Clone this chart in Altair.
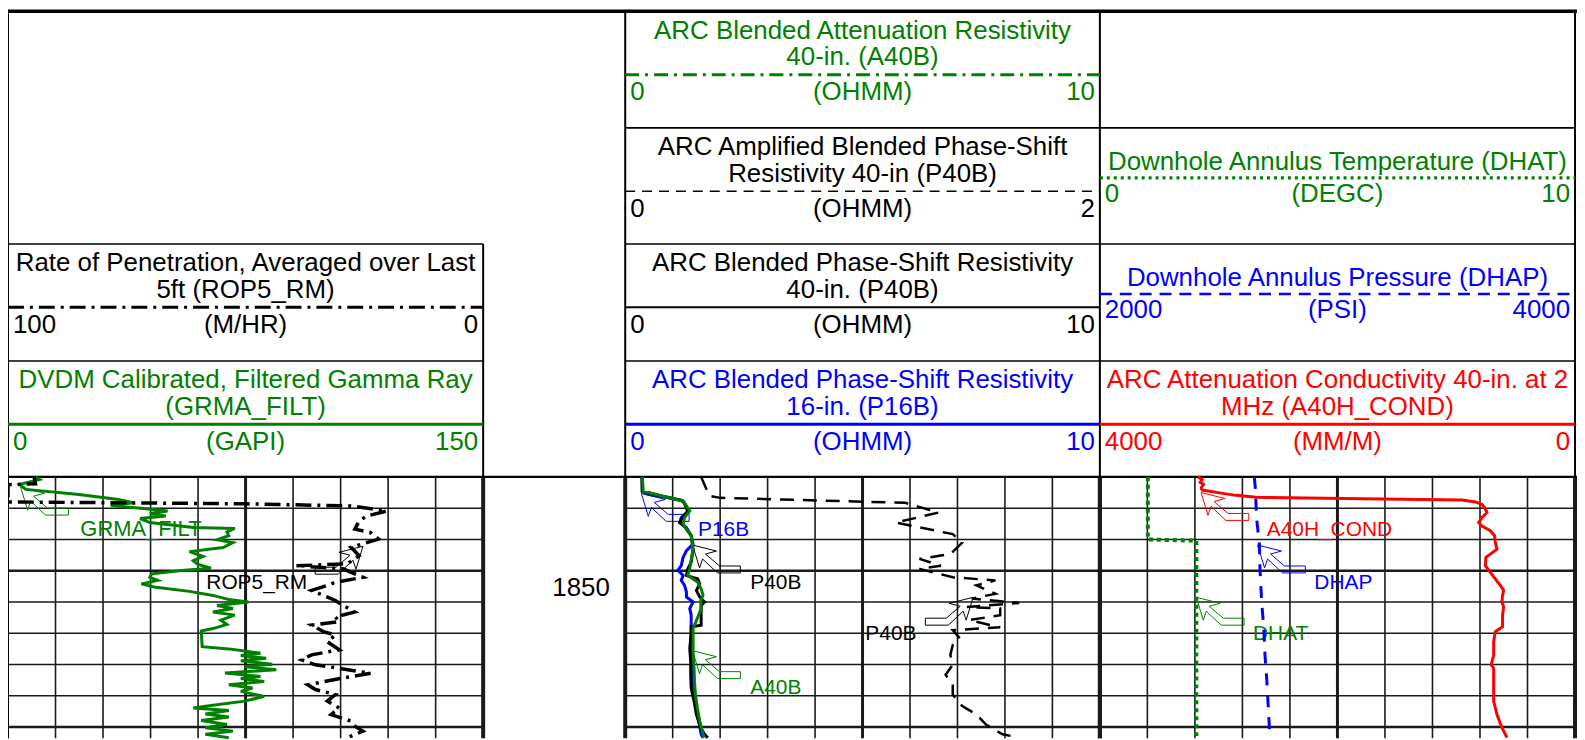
import altair as alt
import pandas as pd

GREEN, BLUE, RED, BLACK = "#008000", "#0000ff", "#ff0000", "#000000"
FONT = "Liberation Sans"

# ---------------- curve data: (depth, value) ----------------
GR = [(1847.00, 8.7), (1847.08, 10.0), (1847.24, 3.7), (1847.40, 5.6), (1847.56, 22.4), (1847.72, 34.9),
      (1847.83, 39.8), (1847.91, 32.4), (1848.02, 43.6), (1848.09, 50.4), (1848.17, 44.8), (1848.25, 49.8),
      (1848.33, 41.7), (1848.46, 44.8), (1848.62, 58.5), (1848.65, 71.6), (1848.76, 69.1), (1848.88, 69.7),
      (1849.01, 66.0), (1849.10, 71.0), (1849.26, 67.9), (1849.39, 57.3), (1849.54, 61.6), (1849.68, 58.5),
      (1849.79, 59.8), (1849.92, 64.1), (1849.99, 54.8), (1850.10, 45.4), (1850.21, 44.8), (1850.31, 47.3),
      (1850.42, 42.1), (1850.52, 46.1), (1850.66, 57.3), (1850.79, 64.7), (1850.92, 69.7), (1851.00, 75.9),
      (1851.11, 66.0), (1851.21, 71.0), (1851.32, 64.7), (1851.42, 71.6), (1851.58, 67.2), (1851.72, 69.1),
      (1851.85, 64.7), (1851.93, 61.0), (1852.43, 61.3), (1852.50, 69.7), (1852.57, 74.7), (1852.64, 79.7),
      (1852.71, 73.5), (1852.80, 81.5), (1852.88, 73.5), (1852.99, 83.4), (1853.07, 74.7), (1853.17, 84.7),
      (1853.27, 68.5), (1853.38, 79.7), (1853.45, 73.5), (1853.54, 80.9), (1853.65, 69.7), (1853.75, 77.2),
      (1853.86, 73.5), (1854.02, 80.9), (1854.17, 74.7), (1854.30, 64.7), (1854.39, 58.5), (1854.47, 69.7),
      (1854.58, 62.3), (1854.68, 69.7), (1854.79, 61.0), (1854.92, 69.1), (1855.02, 62.3), (1855.13, 71.0),
      (1855.23, 62.3), (1855.34, 69.7)]

ROP = [(1847.00, 94.5), (1847.22, 94.2), (1847.25, 100.0), (1847.80, 100.0), (1847.83, 75.0), (1847.86, 50.0),
       (1847.93, 27.8), (1848.09, 20.3), (1848.25, 24.5), (1848.41, 26.1), (1848.67, 27.0), (1848.78, 23.7),
       (1848.99, 22.0), (1849.25, 27.8), (1849.52, 26.1), (1849.78, 28.6), (1849.84, 39.4), (1849.89, 34.4),
       (1849.94, 29.5), (1850.21, 25.3), (1850.37, 31.1), (1850.47, 32.8), (1850.63, 36.1), (1850.79, 33.6),
       (1850.95, 31.1), (1851.11, 29.5), (1851.32, 27.0), (1851.48, 31.1), (1851.63, 30.3), (1851.74, 36.1),
       (1851.95, 33.6), (1852.06, 31.1), (1852.27, 32.8), (1852.53, 30.3), (1852.69, 36.1), (1852.85, 38.2),
       (1853.01, 35.3), (1853.12, 30.3), (1853.28, 23.7), (1853.43, 29.5), (1853.65, 36.9), (1853.80, 35.3),
       (1853.96, 31.1), (1854.17, 32.8), (1854.39, 30.3), (1854.60, 32.0), (1854.81, 27.8), (1854.97, 27.0),
       (1855.13, 25.3), (1855.34, 28.6)]

P40B_AMP = [(1847.00, 0.32), (1847.61, 0.355), (1847.67, 0.40), (1847.83, 1.18), (1848.14, 1.32), (1848.46, 1.14),
            (1848.83, 1.38), (1849.10, 1.42), (1849.47, 1.37), (1849.62, 1.24), (1849.84, 1.33), (1849.94, 1.24),
            (1850.21, 1.38), (1850.31, 1.56), (1850.47, 1.48), (1850.74, 1.56), (1850.89, 1.46), (1851.03, 1.66),
            (1851.16, 1.44), (1851.21, 1.58), (1851.42, 1.58), (1851.58, 1.45), (1851.81, 1.58), (1851.90, 1.38),
            (1852.16, 1.41), (1852.38, 1.38), (1852.69, 1.37), (1853.01, 1.38), (1853.33, 1.35), (1853.65, 1.38),
            (1853.96, 1.38), (1854.33, 1.42), (1854.60, 1.48), (1854.92, 1.52), (1855.23, 1.59), (1855.34, 1.66)]

P16B = [(1847.00, 0.36), (1847.46, 0.36), (1847.56, 0.49), (1847.67, 0.91), (1847.77, 1.22), (1847.93, 1.29),
        (1848.14, 1.32), (1848.30, 1.18), (1848.46, 1.15), (1848.62, 1.29), (1848.88, 1.39), (1849.15, 1.43),
        (1849.36, 1.29), (1849.57, 1.22), (1849.84, 1.18), (1849.99, 1.11), (1850.15, 1.22), (1850.31, 1.18),
        (1850.47, 1.25), (1850.68, 1.29), (1850.84, 1.29), (1851.00, 1.43), (1851.21, 1.36), (1851.42, 1.39),
        (1851.85, 1.39), (1852.27, 1.38), (1852.69, 1.39), (1853.12, 1.41), (1853.54, 1.43), (1853.96, 1.46),
        (1854.39, 1.50), (1854.81, 1.55), (1855.23, 1.60), (1855.34, 1.64)]

P40B = [(1847.00, 0.35), (1847.46, 0.36), (1847.61, 0.77), (1847.74, 1.18), (1847.83, 1.24), (1848.09, 1.32),
        (1848.25, 1.22), (1848.46, 1.15), (1848.59, 1.25), (1848.88, 1.39), (1849.31, 1.43), (1849.73, 1.39),
        (1849.94, 1.32), (1850.15, 1.29), (1850.26, 1.53), (1850.42, 1.57), (1850.63, 1.50), (1850.84, 1.57),
        (1851.00, 1.67), (1851.11, 1.60), (1851.42, 1.60), (1851.74, 1.60), (1851.79, 1.39), (1852.06, 1.39),
        (1852.48, 1.36), (1852.90, 1.38), (1853.33, 1.38), (1853.75, 1.39), (1854.17, 1.45), (1854.60, 1.50),
        (1855.02, 1.59), (1855.23, 1.67), (1855.34, 1.74)]

A40B = [(1847.00, 0.36), (1847.46, 0.38), (1847.61, 0.77), (1847.77, 1.22), (1848.09, 1.36), (1848.30, 1.25),
        (1848.51, 1.22), (1848.88, 1.39), (1849.31, 1.43), (1849.73, 1.38), (1849.94, 1.36), (1850.15, 1.32),
        (1850.37, 1.53), (1850.58, 1.60), (1850.79, 1.64), (1850.95, 1.59), (1851.21, 1.60), (1851.48, 1.53),
        (1851.85, 1.43), (1852.27, 1.43), (1852.69, 1.43), (1853.12, 1.45), (1853.54, 1.46), (1853.96, 1.48),
        (1854.39, 1.52), (1854.81, 1.57), (1855.23, 1.64), (1855.34, 1.67)]

DHAT = [(1847.00, 1.01), (1849.00, 1.01), (1849.04, 2.03), (1855.36, 2.03)]

DHAP = [(1847.00, 2650), (1847.40, 2655), (1847.83, 2657), (1848.35, 2660), (1849.10, 2671), (1849.94, 2674),
        (1851.00, 2681), (1851.85, 2690), (1852.69, 2695), (1853.54, 2703), (1854.39, 2709), (1855.23, 2715),
        (1855.36, 2715)]

A40H_COND = [(1847.00, 3175), (1847.08, 3139), (1847.17, 3155), (1847.24, 3127), (1847.35, 3147), (1847.42, 3139),
             (1847.51, 2993), (1847.59, 2853), (1847.65, 2685), (1847.70, 1790), (1847.74, 951), (1847.80, 839),
             (1847.88, 783), (1847.98, 761), (1848.14, 741), (1848.30, 783), (1848.46, 811), (1848.57, 783),
             (1848.72, 713), (1848.88, 677), (1849.10, 671), (1849.31, 657), (1849.47, 713), (1849.57, 750),
             (1849.84, 755), (1850.05, 713), (1850.26, 671), (1850.47, 629), (1850.63, 601), (1850.79, 610),
             (1851.00, 615), (1851.16, 601), (1851.42, 610), (1851.79, 610), (1851.95, 671), (1852.27, 685),
             (1852.69, 685), (1853.01, 705), (1853.12, 685), (1853.54, 685), (1854.17, 685), (1854.60, 657),
             (1855.02, 615), (1855.34, 573)]

# curve label pointers: (label, depth, value)
TIP_GR = ("GRMA_FILT", 1847.33, 4.0)
TIP_ROP = ("ROP5_RM", 1849.22, 25.3)
TIP_P16B = ("P16B", 1847.53, 0.34)
TIP_P40B = ("P40B", 1849.18, 1.42)
TIP_A40B = ("A40B", 1852.56, 1.42)
TIP_P40B_AMP = ("P40B", 1850.85, 1.466)
TIP_COND = ("A40H_COND", 1847.50, 3148)
TIP_DHAP = ("DHAP", 1849.18, 2664)
TIP_DHAT = ("DHAT", 1850.85, 2.03)

DEPTH_GRID = list(range(1847, 1856))
DEPTH_LABELS = [1850]

# header texts
H_ROP = (["Rate of Penetration, Averaged over Last", "5ft (ROP5_RM)"], "(M/HR)", "100", "0")
H_GR = (["DVDM Calibrated, Filtered Gamma Ray", "(GRMA_FILT)"], "(GAPI)", "0", "150")
H_A40B = (["ARC Blended Attenuation Resistivity", "40-in. (A40B)"], "(OHMM)", "0", "10")
H_P40B_AMP = (["ARC Amplified Blended Phase-Shift", "Resistivity 40-in (P40B)"], "(OHMM)", "0", "2")
H_P40B = (["ARC Blended Phase-Shift Resistivity", "40-in. (P40B)"], "(OHMM)", "0", "10")
H_P16B = (["ARC Blended Phase-Shift Resistivity", "16-in. (P16B)"], "(OHMM)", "0", "10")
H_DHAT = (["Downhole Annulus Temperature (DHAT)"], "(DEGC)", "0", "10")
H_DHAP = (["Downhole Annulus Pressure (DHAP)"], "(PSI)", "2000", "4000")
H_COND = (["ARC Attenuation Conductivity 40-in. at 2", "MHz (A40H_COND)"], "(MM/M)", "4000", "0")

# ---------------- layout ----------------
W, H = 1577, 732


def X(p):
    return p * W / 1585.0


def Y(p):
    return (p - 4.0) * H / 736.0


COLS = [0.0, 480.0, 623.5, 1103.0, 1583.0]
ROWS = [5.5, 123.3, 240.6, 358.9, 476.0]
TRACKS = {"L": (COLS[0], COLS[1]), "M": (COLS[2], COLS[3]), "R": (COLS[3], COLS[4])}
PX_PER_UNIT = 31.6
D_TOP = DEPTH_GRID[0]
D_END = D_TOP + (740 - ROWS[4]) / PX_PER_UNIT


def sc(domain, rng):
    return alt.Scale(domain=domain, range=rng, nice=False, zero=False)


LX = sc([0, 1585], [0, W])
LY = sc([4, 740], [0, H])
DEPTH = sc([D_TOP, D_END], [Y(ROWS[4]), H])

DASHDOT = [16, 6, 3, 6]
PTR = "M0,0L24,6L13,9L27,21L48,21L48,28L25,28L10,14L7,23Z"
PTR_M = "M0,0L-24,6L-13,9L-27,21L-48,21L-48,28L-25,28L-10,14L-7,23Z"

layers = []

# grid in each track
for key, (l, r) in TRACKS.items():
    rows = []
    for i in range(11):
        if i in (0, 10):
            w = 2.0 if (key == "L" and i == 0) else 4.0
        elif i == 5:
            w = 3.0
        else:
            w = 1.6
        rows.append(dict(gx=i, gx2=i, gy=D_TOP, gy2=D_END, w=w))
    for d in DEPTH_GRID:
        rows.append(dict(gx=0, gx2=10, gy=d, gy2=d, w=2.6 if d % 5 == 0 else 1.4))
    gs = sc([0, 10], [X(l), X(r)])
    layers.append(
        alt.Chart(pd.DataFrame(rows)).mark_rule(color="#1a1a1a").encode(
            x=alt.X("gx:Q", scale=gs, axis=None), x2="gx2:Q",
            y=alt.Y("gy:Q", scale=DEPTH, axis=None), y2="gy2:Q",
            strokeWidth=alt.StrokeWidth("w:Q", scale=None),
        )
    )

# header borders
B = [
    (0, 1585, ROWS[0], ROWS[0], 3.5),
    (COLS[0], COLS[0], ROWS[0], 740, 2.0),
    (COLS[2], COLS[2], ROWS[0], ROWS[4], 2.0),
    (COLS[3], COLS[3], ROWS[0], ROWS[4], 2.0),
    (COLS[4], COLS[4], ROWS[0], ROWS[4], 2.0),
    (COLS[1], COLS[1], ROWS[2], ROWS[4], 2.0),
    (COLS[2], COLS[4], ROWS[1], ROWS[1], 1.6),
    (COLS[0], COLS[1], ROWS[2], ROWS[2], 1.6),
    (COLS[2], COLS[4], ROWS[2], ROWS[2], 1.6),
    (COLS[0], COLS[1], ROWS[3], ROWS[3], 1.6),
    (COLS[2], COLS[4], ROWS[3], ROWS[3], 1.6),
    (0, 1585, ROWS[4], ROWS[4], 2.2),
]
bdf = pd.DataFrame(B, columns=["x", "x2", "y", "y2", "w"])
layers.append(
    alt.Chart(bdf).mark_rule(color=BLACK).encode(
        x=alt.X("x:Q", scale=LX, axis=None), x2="x2:Q",
        y=alt.Y("y:Q", scale=LY, axis=None), y2="y2:Q",
        strokeWidth=alt.StrokeWidth("w:Q", scale=None),
    )
)

# header boxes: (header, track, row, color, header line style)
HEADERS = [
    (H_ROP, "L", 2, BLACK, dict(strokeWidth=3, strokeDash=DASHDOT)),
    (H_GR, "L", 3, GREEN, dict(strokeWidth=3)),
    (H_A40B, "M", 0, GREEN, dict(strokeWidth=3, strokeDash=[14, 6, 3, 6])),
    (H_P40B_AMP, "M", 1, BLACK, dict(strokeWidth=1.5, strokeDash=[10, 7])),
    (H_P40B, "M", 2, BLACK, dict(strokeWidth=2)),
    (H_P16B, "M", 3, BLUE, dict(strokeWidth=3)),
    (H_DHAT, "R", 1, GREEN, dict(strokeWidth=3.5, strokeDash=[3, 4])),
    (H_DHAP, "R", 2, BLUE, dict(strokeWidth=2.5, strokeDash=[12, 8])),
    (H_COND, "R", 3, RED, dict(strokeWidth=3)),
]

center_rows, left_rows, right_rows = [], [], []
for (titles, unit, lo, hi), key, row, color, style in HEADERS:
    l, r = TRACKS[key]
    T = ROWS[row]
    cx = (l + r) / 2
    if len(titles) == 2:
        tys, ly, lab = [T + 19.5, T + 46.5], T + 64, T + 81.5
    else:
        tys, ly, lab = [T + 34.5], T + 50.5, T + 66.7
    for t, ty in zip(titles, tys):
        center_rows.append(dict(x=cx, y=ty, text=t, c=color))
    center_rows.append(dict(x=cx, y=lab, text=unit, c=color))
    left_rows.append(dict(x=l + 5, y=lab, text=lo, c=color))
    right_rows.append(dict(x=r - 5, y=lab, text=hi, c=color))
    ldf = pd.DataFrame([dict(x=l, x2=r, y=ly)])
    layers.append(
        alt.Chart(ldf).mark_rule(color=color, **style).encode(
            x=alt.X("x:Q", scale=LX, axis=None), x2="x2:Q",
            y=alt.Y("y:Q", scale=LY, axis=None),
        )
    )

for rows, align in ((center_rows, "center"), (left_rows, "left"), (right_rows, "right")):
    layers.append(
        alt.Chart(pd.DataFrame(rows)).mark_text(font=FONT, fontSize=26, align=align, baseline="middle").encode(
            x=alt.X("x:Q", scale=LX, axis=None),
            y=alt.Y("y:Q", scale=LY, axis=None),
            text="text:N",
            color=alt.Color("c:N", scale=None),
        )
    )

# depth label
ddf = pd.DataFrame(dict(x=[COLS[2] - 15.5] * len(DEPTH_LABELS), d=DEPTH_LABELS, t=[str(v) for v in DEPTH_LABELS]))
layers.append(
    alt.Chart(ddf).mark_text(font=FONT, fontSize=26, align="right", baseline="middle", dy=17, color=BLACK).encode(
        x=alt.X("x:Q", scale=LX, axis=None),
        y=alt.Y("d:Q", scale=DEPTH, axis=None),
        text="t:N",
    )
)

# curves: (points, track, domain, color, line style, tip, mirrored, label dx, label dy, label size)
CURVES = [
    (GR, "L", [0, 150], GREEN, dict(strokeWidth=3), TIP_GR, False, 60, 42, 22),
    (ROP, "L", [100, 0], BLACK, dict(strokeWidth=3.5, strokeDash=DASHDOT), TIP_ROP, True, -56, 37, 21),
    (P40B_AMP, "M", [0, 2], BLACK, dict(strokeWidth=2.5, strokeDash=[14, 9]), TIP_P40B_AMP, True, -57, 37, 21),
    (P16B, "M", [0, 10], BLUE, dict(strokeWidth=3), TIP_P16B, False, 57, 37, 21),
    (P40B, "M", [0, 10], BLACK, dict(strokeWidth=3), TIP_P40B, False, 58, 38, 21),
    (A40B, "M", [0, 10], GREEN, dict(strokeWidth=3), TIP_A40B, False, 58, 37, 21),
    (DHAT, "R", [0, 10], GREEN, dict(strokeWidth=4, strokeDash=[4, 4]), TIP_DHAT, False, 57, 37, 21),
    (DHAP, "R", [2000, 4000], BLUE, dict(strokeWidth=3, strokeDash=[12, 10]), TIP_DHAP, False, 57, 38, 21),
    (A40H_COND, "R", [4000, 0], RED, dict(strokeWidth=3), TIP_COND, False, 66, 38, 21),
]

for pts, key, dom, color, style, tip, mirror, ldx, ldy, lfs in CURVES:
    l, r = TRACKS[key]
    xs = sc(dom, [X(l), X(r)])
    df = pd.DataFrame(pts, columns=["d", "v"])
    df["i"] = range(len(df))
    layers.append(
        alt.Chart(df).mark_line(color=color, **style).encode(
            x=alt.X("v:Q", scale=xs, axis=None),
            y=alt.Y("d:Q", scale=DEPTH, axis=None),
            order=alt.Order("i:Q"),
        )
    )
    tdf = pd.DataFrame([dict(t=tip[0], d=tip[1], v=tip[2])])
    layers.append(
        alt.Chart(tdf).mark_point(shape=PTR_M if mirror else PTR, size=4, filled=False, color=color,
                                  strokeWidth=1, opacity=1).encode(
            x=alt.X("v:Q", scale=xs, axis=None),
            y=alt.Y("d:Q", scale=DEPTH, axis=None),
        )
    )
    layers.append(
        alt.Chart(tdf).mark_text(font=FONT, fontSize=lfs, align="right" if mirror else "left",
                                 baseline="middle", dx=ldx, dy=ldy, color=color).encode(
            x=alt.X("v:Q", scale=xs, axis=None),
            y=alt.Y("d:Q", scale=DEPTH, axis=None),
            text="t:N",
        )
    )

chart = (
    alt.layer(*layers)
    .resolve_scale(x="independent", y="independent")
    .properties(width=W, height=H, padding=0, autosize=alt.AutoSizeParams(type="none"), background="white")
    .configure_view(stroke=None)
)

chart.save("out.html", embed_options={"renderer": "svg", "actions": False})
